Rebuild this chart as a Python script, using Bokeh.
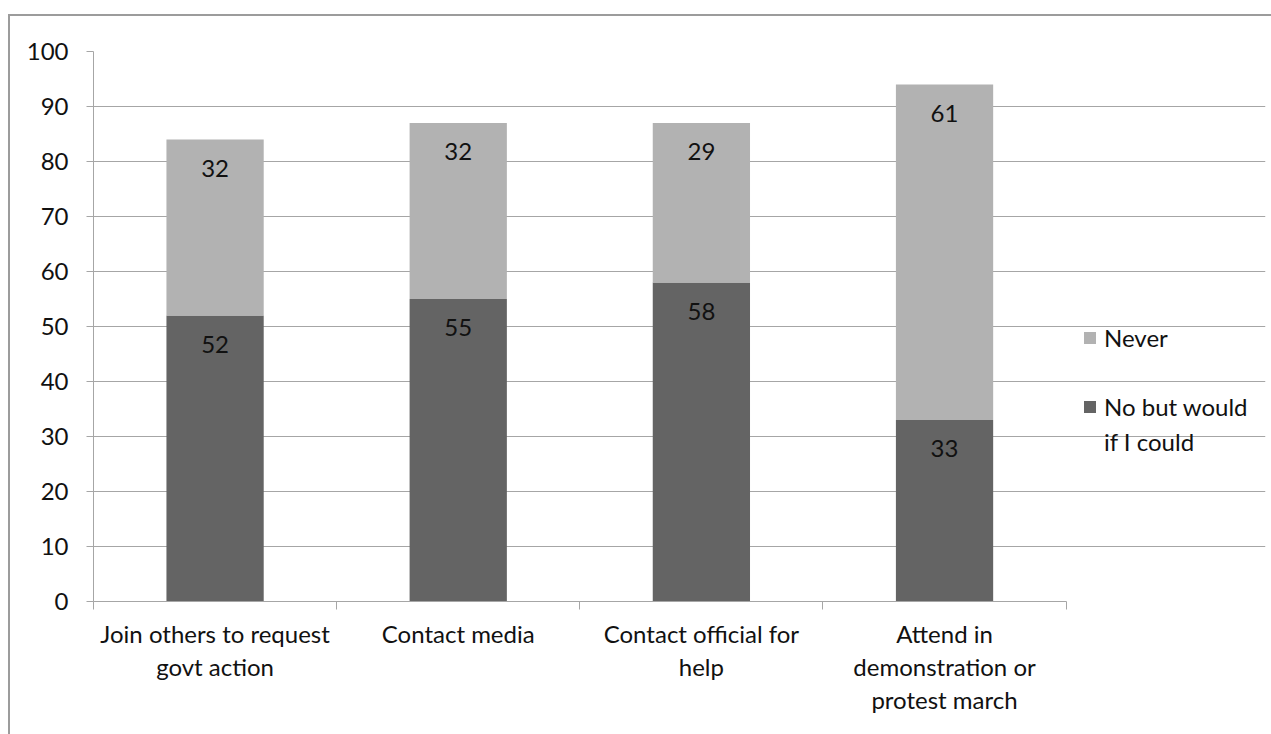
from bokeh.plotting import figure
from bokeh.models import (Range1d, FixedTicker, Legend, LegendItem,
                          ColumnDataSource)
from bokeh.core.properties import value
from bokeh.embed import file_html
from bokeh.resources import INLINE

# Survey responses per action (percent)
categories = ["Join others to request govt action", "Contact media",
              "Contact official for help", "Attend in demonstration or protest march"]
tick_labels = ["Join others to request\ngovt action", "Contact media",
               "Contact official for\nhelp", "Attend in\ndemonstration or\nprotest march"]
no_but_would = [52, 55, 58, 33]
never = [32, 32, 29, 61]
legend_lines = ["Never", " ", "No but would", "if I could"]
y_ticks = list(range(0, 101, 10))

FONT = "Lato"
FS = "24px"
DARK = "#646464"
LIGHT = "#b2b2b2"
GRID = "#a6a6a6"
TXT = "#111111"

xs = list(range(1, len(categories) + 1))
x_lo, x_hi = 0.5, len(categories) + 0.5
legend_room = 0.82          # extra x-range to the right that holds the legend
top_nb = no_but_would
top_nv = [a + b for a, b in zip(no_but_would, never)]

src = ColumnDataSource(dict(
    x=xs, top_nb=top_nb, top_nv=top_nv,
    lab_nb=[str(v) for v in no_but_would], lab_nv=[str(v) for v in never],
    y_nb=[t - 5.2 for t in top_nb], y_nv=[t - 5.2 for t in top_nv],
))

W, H = 1261, 718
p = figure(width=W, height=H, output_backend="svg", toolbar_location=None,
           x_range=Range1d(x_lo, x_hi + legend_room), y_range=Range1d(0, 100),
           min_border_left=83, min_border_top=35, min_border_right=6,
           min_border_bottom=133)
p.outline_line_color = None
p.background_fill_color = "white"
p.border_fill_color = "white"
# chart area frame, drawn around the canvas
p.styles = {"margin-left": "10px", "margin-top": "16px",
            "outline": "2px solid #9c9c9c"}

r_nb = p.vbar(x="x", bottom=0, top="top_nb", width=0.4, source=src,
              fill_color=DARK, line_color=None)
r_nv = p.vbar(x="x", bottom="top_nb", top="top_nv", width=0.4, source=src,
              fill_color=LIGHT, line_color=None)
# empty, invisible renderer used for spacer / continuation rows in the legend
r_blank = p.vbar(x=[], top=[], width=0.4, fill_alpha=0, line_alpha=0)

for ycol, tcol in (("y_nb", "lab_nb"), ("y_nv", "lab_nv")):
    p.text(x="x", y=ycol, text=tcol, source=src, text_align="center",
           text_baseline="middle", text_font=value(FONT), text_font_size=FS,
           text_color=TXT)

# y axis
ya = p.yaxis[0]
ya.ticker = FixedTicker(ticks=y_ticks)
ya.axis_line_color = GRID
ya.major_tick_line_color = GRID
ya.major_tick_out = 7
ya.major_tick_in = 0
ya.minor_tick_line_color = None
ya.major_label_standoff = 18
ya.major_label_text_font = FONT
ya.major_label_text_font_size = FS
ya.major_label_text_color = TXT

# x axis: labels at bar centres, tick marks at category boundaries
xa = p.xaxis[0]
xa.bounds = (x_lo, x_hi)
xa.ticker = FixedTicker(ticks=xs, minor_ticks=[x - 0.5 for x in xs] + [x_hi])
xa.major_label_overrides = {x: t for x, t in zip(xs, tick_labels)}
xa.axis_line_color = GRID
xa.major_tick_line_color = None
xa.major_tick_out = 0
xa.major_tick_in = 0
xa.minor_tick_line_color = GRID
xa.minor_tick_out = 8
xa.minor_tick_in = 0
xa.major_label_standoff = 9
xa.major_label_text_font = FONT
xa.major_label_text_font_size = FS
xa.major_label_text_color = TXT
xa.major_label_text_line_height = 1.15

p.xgrid.grid_line_color = None
p.ygrid.ticker = FixedTicker(ticks=y_ticks)
p.ygrid.bounds = (x_lo, x_hi)
p.ygrid.grid_line_color = GRID

legend_renderers = [r_nv, r_blank, r_nb, r_blank]
legend = Legend(items=[LegendItem(label=t, renderers=[r])
                       for t, r in zip(legend_lines, legend_renderers)],
                location=(989, 145), padding=0, margin=0, spacing=6,
                glyph_width=15, glyph_height=15, label_standoff=7,
                label_height=28,
                label_text_font=FONT, label_text_font_size=FS,
                label_text_color=TXT, border_line_color=None,
                background_fill_alpha=0)
p.add_layout(legend)

open("out.html", "w").write(file_html(p, INLINE))
